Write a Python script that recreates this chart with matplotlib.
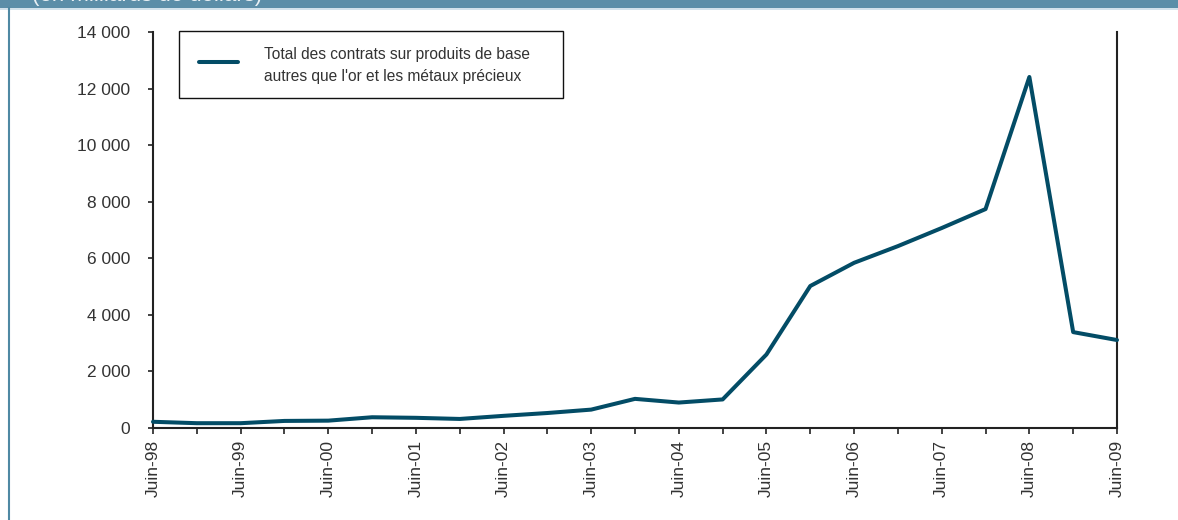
import matplotlib
matplotlib.use("Agg")
import matplotlib.pyplot as plt
from matplotlib.patches import Rectangle
from matplotlib.lines import Line2D
from matplotlib.ticker import FuncFormatter, FixedLocator

periods = ["Juin-98", "Déc-98", "Juin-99", "Déc-99", "Juin-00", "Déc-00", "Juin-01", "Déc-01",
           "Juin-02", "Déc-02", "Juin-03", "Déc-03", "Juin-04", "Déc-04", "Juin-05", "Déc-05",
           "Juin-06", "Déc-06", "Juin-07", "Déc-07", "Juin-08", "Déc-08", "Juin-09"]
values = [220, 170, 170, 250, 260, 380, 360, 320, 430, 530, 650, 1030, 900, 1010,
          2600, 5020, 5840, 6430, 7070, 7740, 12410, 3390, 3110]
series_label = "Total des contrats sur produits de base\nautres que l'or et les métaux précieux"
unit_title = "(en milliards de dollars)"
yticks = [0, 2000, 4000, 6000, 8000, 10000, 12000, 14000]

plt.rcParams['font.family'] = ['Liberation Sans', 'DejaVu Sans']

W, H = 1178, 520
fig = plt.figure(figsize=(W / 100, H / 100), dpi=100)
fig.patch.set_facecolor("white")

def fx(px):
    return px / W

def fy(py):
    return 1 - py / H

LINE_COLOR = "#034c66"

# banner
fig.patches.append(Rectangle((0, fy(8)), 1, 8 / H, transform=fig.transFigure,
                             facecolor="#5b8ea8", edgecolor="none", zorder=0))
fig.lines.append(Line2D([0, 1], [fy(9), fy(9)], transform=fig.transFigure,
                        color="#c9dde7", lw=1.2))
fig.lines.append(Line2D([fx(8.5), fx(8.5)], [0, fy(8)], transform=fig.transFigure,
                        color="#4f89a3", lw=1.5))
fig.text(fx(32), fy(0.8), unit_title, color="#e8f0f4", fontsize=16, va="baseline", ha="left")

ax = fig.add_axes([fx(153), fy(428), (1117 - 153) / W, (428 - 32) / H])
x = list(range(len(values)))
ax.plot(x, values, color=LINE_COLOR, lw=2.9, solid_capstyle="round", solid_joinstyle="round",
        clip_on=False, zorder=3)

ax.set_xlim(0, len(values) - 1)
ax.set_ylim(0, 14000)
ax.spines["top"].set_visible(False)
for s in ["left", "bottom", "right"]:
    ax.spines[s].set_linewidth(1.5)
    ax.spines[s].set_color("#222222")

ax.xaxis.set_major_locator(FixedLocator(x))
ax.set_xticklabels([p if p.startswith("Juin") else "" for p in periods], rotation=90,
                   fontsize=12.5, color="#333333")
ax.set_yticks(yticks)
ax.yaxis.set_major_formatter(FuncFormatter(lambda v, p: f"{int(v):,}".replace(",", " ")))
ax.tick_params(axis="y", length=3.6, width=1.2, color="#222222", labelsize=12.5,
               labelcolor="#333333", pad=13)
ax.tick_params(axis="x", length=4.3, width=1.2, color="#222222", pad=4.5)

# legend box drawn in figure pixel coordinates
fig.patches.append(Rectangle((fx(179), fy(98)), (563 - 179) / W, (98 - 31) / H,
                             transform=fig.transFigure, facecolor="white",
                             edgecolor="#111111", lw=1.0, zorder=5))
fig.lines.append(Line2D([fx(199), fx(238)], [fy(62), fy(62)], transform=fig.transFigure,
                        color=LINE_COLOR, lw=2.9, solid_capstyle="round", zorder=6))
for i, line in enumerate(series_label.split("\n")):
    fig.text(fx(264), fy(55 + 21 * i), line, fontsize=11.2, color="#333333",
             va="center", ha="left", zorder=6)

fig.savefig("out.png", dpi=100)
